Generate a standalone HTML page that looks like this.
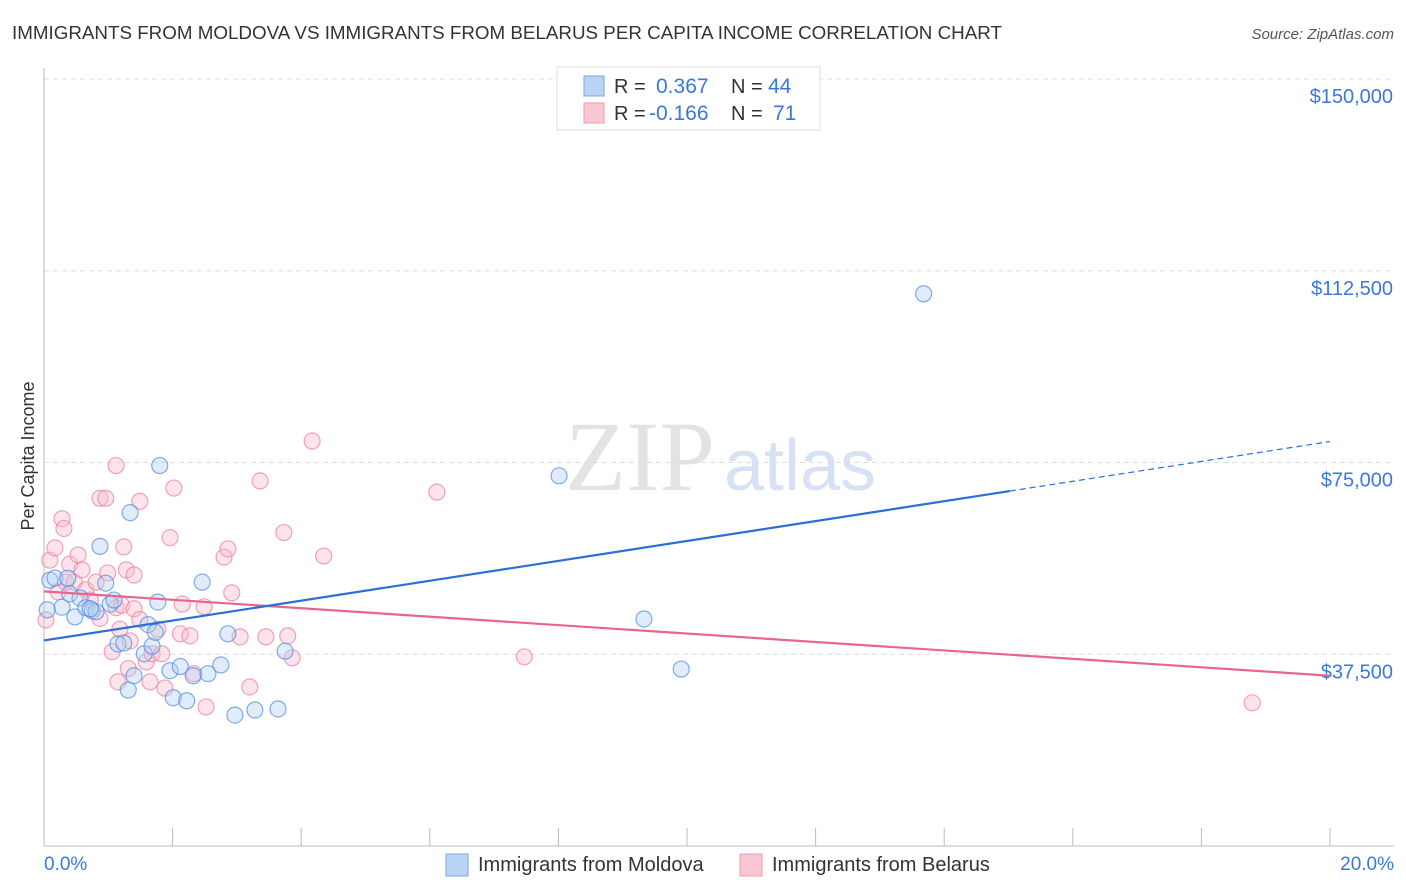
<!DOCTYPE html>
<html><head><meta charset="utf-8"><style>
body{margin:0;background:#fff;font-family:"Liberation Sans",sans-serif;}
svg{display:block}
</style></head><body>
<svg id="c" width="1406" height="892">
<text x="12" y="39" font-size="18.8" fill="#333">IMMIGRANTS FROM MOLDOVA VS IMMIGRANTS FROM BELARUS PER CAPITA INCOME CORRELATION CHART</text>
<text x="1394" y="39" font-size="15" fill="#555" font-style="italic" text-anchor="end">Source: ZipAtlas.com</text>
<text transform="translate(34,456) rotate(-90)" font-size="18" fill="#333" text-anchor="middle">Per Capita Income</text>
<text x="640" y="490" font-size="100" fill="#d8d8d8" font-family="Liberation Serif,serif" text-anchor="middle" opacity="0.7">ZIP</text>
<text x="800" y="490" font-size="72" fill="#c5d6ee" text-anchor="middle" opacity="0.7">atlas</text>
<g id="grid"></g><g id="pts"></g><g id="lines"></g>
<g>
<rect x="557" y="67" width="263" height="63" fill="#fff" stroke="#ddd"/>
<rect x="584" y="76" width="20" height="20" fill="#b9d3f5" stroke="#7aa7e0"/>
<rect x="584" y="103" width="20" height="20" fill="#f9c6d4" stroke="#f09ab3"/>
<text x="614" y="93" font-size="20" fill="#333">R =</text><text x="656" y="93" font-size="21" fill="#3b78d8">0.367</text>
<text x="731" y="93" font-size="20" fill="#333">N =</text><text x="768" y="93" font-size="21" fill="#3b78d8">44</text>
<text x="614" y="120" font-size="20" fill="#333">R =</text><text x="649" y="120" font-size="21" fill="#3b78d8">-0.166</text>
<text x="731" y="120" font-size="20" fill="#333">N =</text><text x="773" y="120" font-size="21" fill="#3b78d8">71</text>
</g>
<g>
<rect x="446" y="854" width="22" height="22" fill="#b9d3f5" stroke="#7aa7e0"/>
<text x="478" y="871" font-size="20" fill="#333">Immigrants from Moldova</text>
<rect x="740" y="854" width="22" height="22" fill="#f9c6d4" stroke="#f09ab3"/>
<text x="772" y="871" font-size="20" fill="#333">Immigrants from Belarus</text>
</g>
<text x="44" y="870" font-size="19" fill="#3b78d8">0.0%</text>
<text x="1394" y="870" font-size="19" fill="#3b78d8" text-anchor="end">20.0%</text>
</svg>
<script>
const yTicks=[37500,75000,112500,150000];
const yTickLabels=["$37,500","$75,000","$112,500","$150,000"];
const blueX=[0.09,0.17,0.28,0.37,0.40,0.48,0.56,0.65,0.75,0.81,0.87,0.96,1.03,1.09,1.15,1.24,1.31,1.34,1.40,1.56,1.62,1.68,1.73,1.77,1.80,1.96,2.01,2.12,2.22,2.32,2.46,2.55,2.75,2.86,2.97,3.28,3.64,3.75,8.01,9.33,9.91,13.68,0.05,0.72];
const blueY=[52000,52400,46700,52400,49300,44800,48500,46600,46000,45800,58600,51400,47300,48100,39500,39700,30500,65200,33300,37600,43300,39100,41800,47700,74400,34300,29000,35100,28400,33300,51600,33700,35400,41500,25600,26600,26800,38100,72400,44400,34600,108000,46200,46400];
const pinkX=[0.09,0.17,0.22,0.28,0.31,0.34,0.40,0.47,0.53,0.59,0.65,0.72,0.81,0.87,0.87,0.96,0.99,1.06,1.12,1.15,1.18,1.21,1.24,1.28,1.31,1.34,1.40,1.40,1.49,1.49,1.59,1.65,1.68,1.77,1.83,1.88,1.96,2.02,2.12,2.15,2.27,2.33,2.49,2.52,2.80,2.86,2.92,3.05,3.20,3.36,3.45,3.73,3.79,3.86,4.17,4.35,6.11,7.47,18.79,1.12,0.03];
const pinkY=[55900,58300,49700,64000,62100,51600,55100,51600,56900,54000,50100,48100,51600,44500,68000,68000,53400,38000,46600,32100,42400,47100,58500,54000,34700,40100,53000,46400,67400,44300,36000,32100,37600,42400,37600,30900,60300,70000,41500,47300,41100,33700,46800,27200,56500,58100,49500,40900,31100,71400,40900,61300,41100,36800,79200,56700,69200,37000,28000,74400,44200];
const blueTrend=[0,40200,20,79100];
const pinkTrend=[0,49800,20,33300];
const L=44,R=1330,T=79,B=846,xMax=20,yMax=150000;
const X=v=>L+v/xMax*(R-L);
const Y=v=>B-v/yMax*(B-T);
const NS="http://www.w3.org/2000/svg";
function mk(t,a,p){const e=document.createElementNS(NS,t);for(const k in a)e.setAttribute(k,a[k]);p.appendChild(e);return e;}
const g=document.getElementById('grid');
yTicks.forEach((v,i)=>{
 const l=mk('line',{x1:L,x2:1394,y1:Y(v),y2:Y(v),stroke:'#ddd','stroke-dasharray':'5,4'},g);
 
 
 const t=mk('text',{x:1393,y:Y(v)+24,'font-size':20,fill:'#3b78d8','text-anchor':'end'},g);
 t.textContent=yTickLabels[i];
 
 
});
mk('line',{x1:L,x2:L,y1:68,y2:B,stroke:'#bbb'},g);
mk('line',{x1:L,x2:1394,y1:B,y2:B,stroke:'#bbb'},g);
for(let i=1;i<=10;i++){const tk=mk('line',{x1:X(i*2),x2:X(i*2),y1:B,y2:B-18,stroke:'#bbb'},g);
 
 }
const p=document.getElementById('pts');
function pts(xs,ys,fill,stroke,name){xs.forEach((x,i)=>{const c=mk('circle',{cx:X(x),cy:Y(ys[i]),r:8,fill:fill,'fill-opacity':0.4,stroke:stroke,'stroke-opacity':0.7,'stroke-width':1.2},p);
 
 });}
pts(pinkX,pinkY,'#f9bccd','#ea7d9c','point-belarus');
pts(blueX,blueY,'#b3cff2','#4f8ae0','point-moldova');
const ln=document.getElementById('lines');
function trend(tr,solidTo,col,name){
 const f=x=>tr[1]+(tr[3]-tr[1])*(x-tr[0])/(tr[2]-tr[0]);
 const a=mk('line',{x1:X(tr[0]),y1:Y(f(tr[0])),x2:X(solidTo),y2:Y(f(solidTo)),stroke:col,'stroke-width':2.2},ln);
 
 
 if(solidTo<tr[2]){const d=mk('line',{x1:X(solidTo),y1:Y(f(solidTo)),x2:X(tr[2]),y2:Y(f(tr[2])),stroke:col,'stroke-width':1.2,'stroke-dasharray':'6,4'},ln);
 
 }
}
trend(pinkTrend,20,'#e8668e','trend-line-belarus');
trend(blueTrend,15.02,'#2a6fd6','trend-line-moldova');
</script>
</body></html>
